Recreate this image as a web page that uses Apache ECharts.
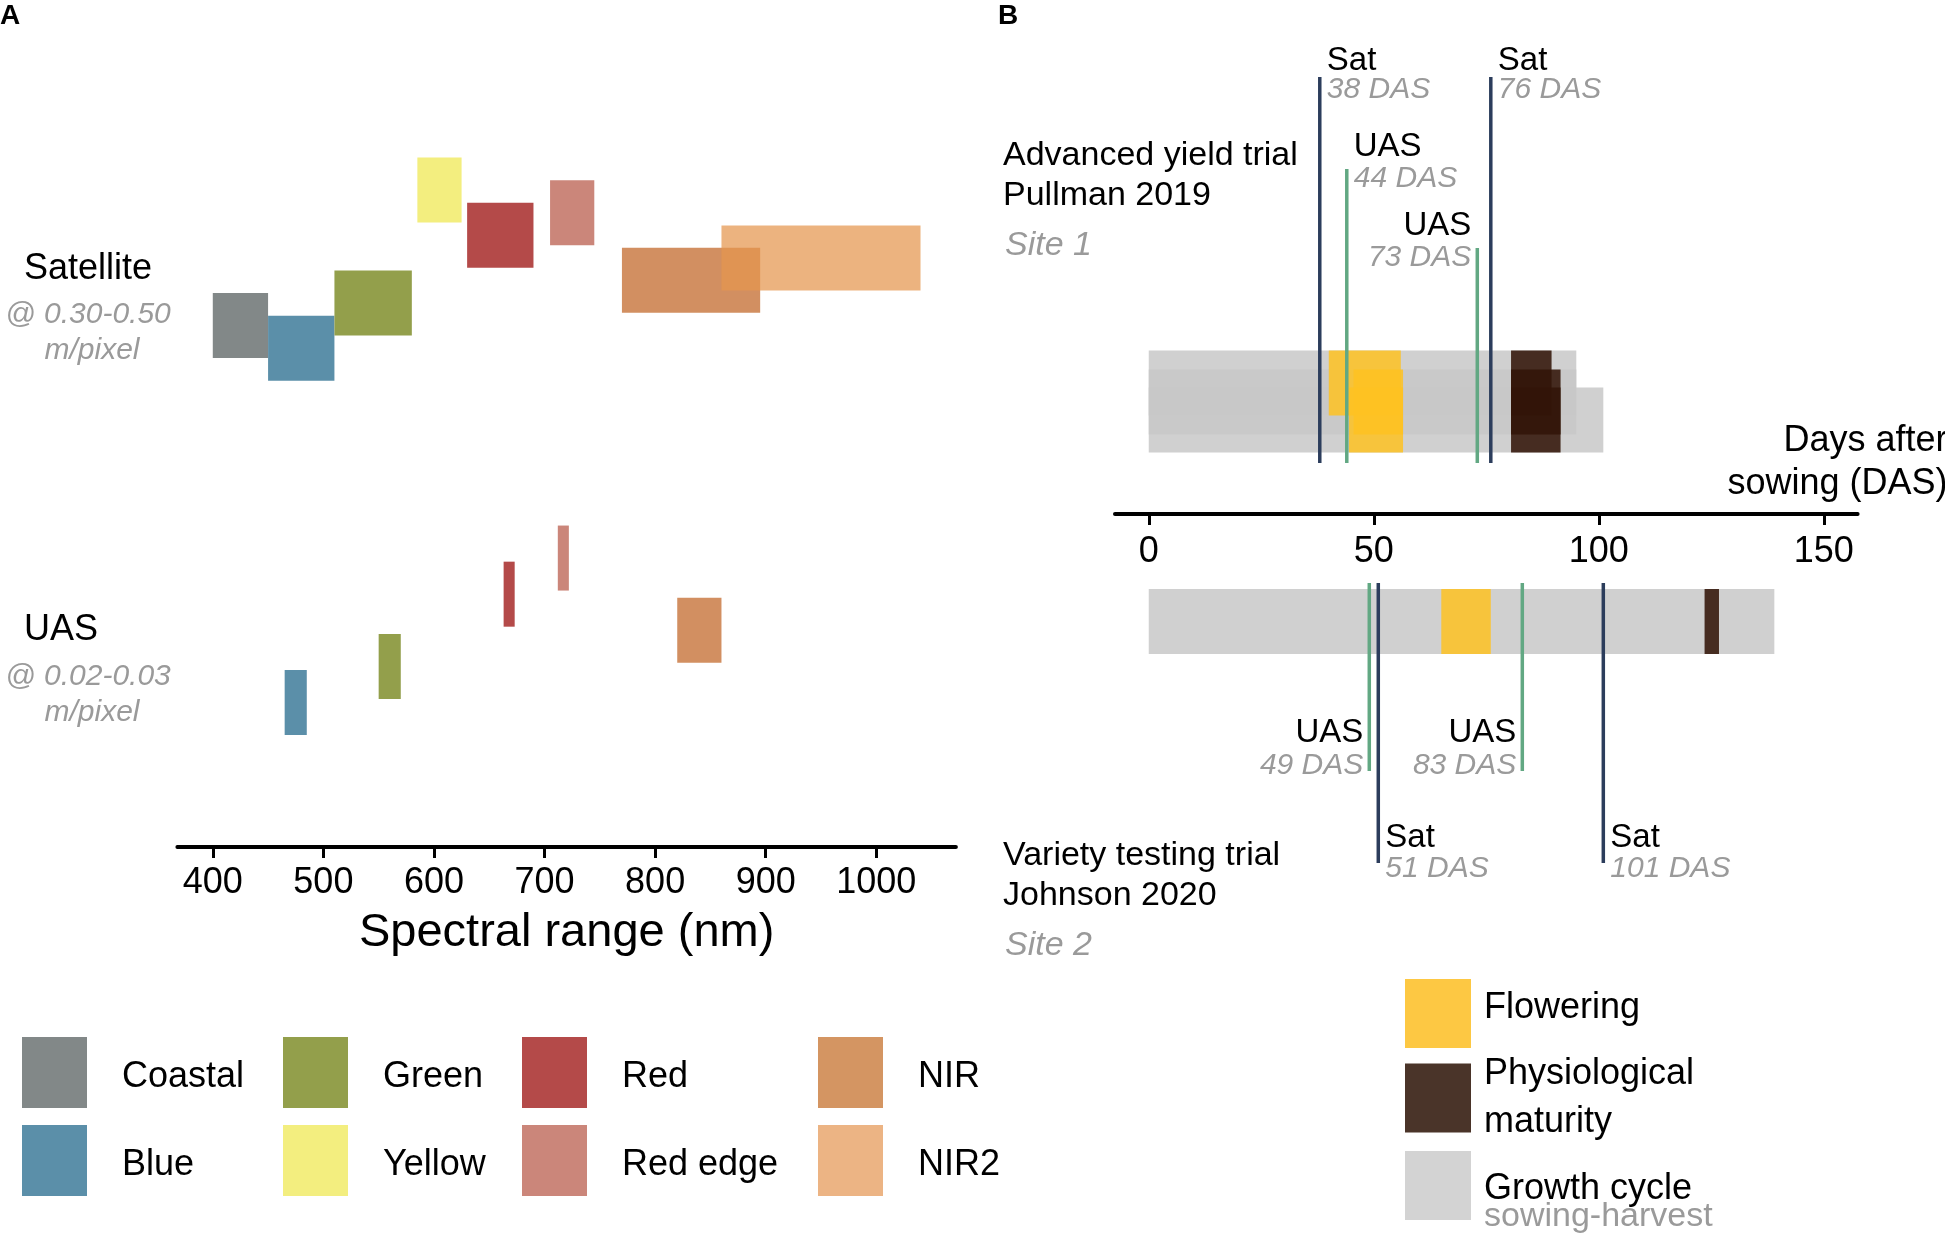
<!DOCTYPE html>
<html><head><meta charset="utf-8">
<script src="https://cdn.jsdelivr.net/npm/echarts@6/dist/echarts.min.js"></script>
<style>html,body{margin:0;padding:0;background:#fff}#c{width:1945px;height:1235px}</style>
</head><body><div id="c"></div>
<script>
// ---------- Panel A data ----------
const bandNames  = ['Coastal','Blue','Green','Yellow','Red','Red edge','NIR','NIR2'];
const satStart   = [400, 450, 510, 585, 630, 705, 770, 860];
const satEnd     = [450, 510, 580, 625, 690, 745, 895, 1040];
const satRow     = [1.844, 1.781, 1.906, 2.219, 2.094, 2.156, 1.969, 2.031];
const uasBands   = ['Blue','Green','Red','Red edge','NIR'];
const uasStart   = [465, 550, 663, 712, 820];
const uasEnd     = [485, 570, 673, 722, 860];
const uasRow     = [0.8, 0.9, 1.1, 1.2, 1.0];
const platformNames = ['Satellite','UAS'];
const platformRes   = ['@ 0.30-0.50','@ 0.02-0.03'];
const platformRow   = [2, 1];
const spectralTicks = [400, 500, 600, 700, 800, 900, 1000];

// ---------- Panel B data ----------
const rowY          = [1.31, 1.12, 0.94, -1.075];
const growthStart   = [0, 0, 0, 0];
const growthEnd     = [95, 95, 101, 139];
const flowerStart   = [40, 45.5, 44.5, 65];
const flowerEnd     = [56, 56.5, 56.5, 76];
const maturityStart = [80.5, 80.5, 80.5, 123.5];
const maturityEnd   = [89.5, 91.5, 91.5, 126.7];
const sensorNames   = ['Sat','UAS'];
const flightSensor  = [0, 1, 1, 0, 1, 0, 1, 0];
const flightDAS     = [38, 44, 73, 76, 49, 51, 83, 101];
const flightNear    = [0.51, 0.51, 0.51, 0.51, -0.69, -0.69, -0.69, -0.69];
const flightFar     = [4.37, 3.45, 2.66, 4.37, -2.57, -3.49, -2.57, -3.49];
const flightSide    = [1, 1, -1, 1, -1, 1, -1, 1];
const dasTicks      = [0, 50, 100, 150];
const trialNames  = ['Advanced yield trial', 'Variety testing trial'];
const trialPlaces = ['Pullman 2019', 'Johnson 2020'];
const siteNames   = ['Site 1', 'Site 2'];

// ---------- styles ----------
const FONT = 'Liberation Sans, Arial, Helvetica, sans-serif';
const bandColor = {
  'Coastal':'#828888','Blue':'#5b8fa9','Green':'#939f4b','Yellow':'#f3ee7f',
  'Red':'#b44a49','Red edge':'#cb867a','NIR':'#c06424','NIR2':'#e5954e'
};
const bandOpacity = {'NIR':0.72,'NIR2':0.72};
const bandLegendColor = Object.assign({}, bandColor, {'NIR':'#d49562','NIR2':'#ecb484'});
const GRAY_TXT = '#9a9a9a';
const SAT_COL = '#2c3d5c', UAS_COL = '#62a883';
const HA = 0.09, HB = 0.325;

function rectRender(h, opacity) {
  return function (params, api) {
    const x0 = api.value(0), x1 = api.value(1), y = api.value(2);
    const p0 = api.coord([x0, y + h]);
    const p1 = api.coord([x1, y - h]);
    return {
      type: 'rect',
      shape: { x: p0[0], y: p0[1], width: p1[0] - p0[0], height: p1[1] - p0[1] },
      style: { fill: api.visual('color'), opacity: opacity }
    };
  };
}

const series = [];
// Panel A bands
bandNames.forEach((b, i) => {
  const data = [[satStart[i], satEnd[i], satRow[i]]];
  const j = uasBands.indexOf(b);
  if (j >= 0) data.push([uasStart[j], uasEnd[j], uasRow[j]]);
  series.push({
    type: 'custom', name: b, xAxisIndex: 0, yAxisIndex: 0, clip: false,
    itemStyle: { color: bandColor[b] },
    encode: { x: [0, 1], y: 2 },
    renderItem: rectRender(HA, bandOpacity[b] || 1),
    data: data, silent: true
  });
});
// Platform labels
series.push({
  type: 'custom', name: 'platforms', xAxisIndex: 0, yAxisIndex: 0, silent: true, clip: false,
  encode: { x: 0, y: 1 },
  data: platformRow.map((r, i) => [368, r, i]),
  renderItem: function (params, api) {
    const i = api.value(2);
    const p = api.coord([api.value(0), api.value(1)]);
    return { type: 'group', children: [
      { type: 'text', style: { x: 24, y: p[1], text: platformNames[i], font: '36px ' + FONT, fill: '#000', verticalAlign: 'middle', align: 'left' } },
      { type: 'text', style: { x: 88, y: p[1] + 46, text: platformRes[i], font: 'italic 30px ' + FONT, fill: GRAY_TXT, verticalAlign: 'middle', align: 'center' } },
      { type: 'text', style: { x: 92, y: p[1] + 82, text: 'm/pixel', font: 'italic 30px ' + FONT, fill: GRAY_TXT, verticalAlign: 'middle', align: 'center' } }
    ]};
  }
});
// Panel B phases (site 2 lies below the axis line, drawn outside the grid box)
const rowsOf = (s, e) => rowY.map((y, i) => [s[i], e[i], y]);
series.push({
  type: 'custom', name: 'Growth cycle', xAxisIndex: 1, yAxisIndex: 1, silent: true, clip: false,
  itemStyle: { color: '#c8c8c8' }, encode: { x: [0, 1], y: 2 },
  renderItem: rectRender(HB, 0.85), data: rowsOf(growthStart, growthEnd)
});
series.push({
  type: 'custom', name: 'Flowering', xAxisIndex: 1, yAxisIndex: 1, silent: true, clip: false,
  itemStyle: { color: '#fec222' }, encode: { x: [0, 1], y: 2 },
  renderItem: rectRender(HB, 0.85), data: rowsOf(flowerStart, flowerEnd)
});
series.push({
  type: 'custom', name: 'Physiological maturity', xAxisIndex: 1, yAxisIndex: 1, silent: true, clip: false,
  itemStyle: { color: '#321508' }, encode: { x: [0, 1], y: 2 },
  renderItem: rectRender(HB, 0.88), data: rowsOf(maturityStart, maturityEnd)
});
// Panel B overpass lines
series.push({
  type: 'custom', name: 'overpass', xAxisIndex: 1, yAxisIndex: 1, silent: true, clip: false,
  encode: { x: 0, y: [1, 2] },
  data: flightDAS.map((d, i) => [d, flightNear[i], flightFar[i], flightSensor[i], flightSide[i]]),
  renderItem: function (params, api) {
    const das = api.value(0), near = api.value(1), far = api.value(2);
    const s = api.value(3), side = api.value(4);
    const pn = api.coord([das, near]), pf = api.coord([das, far]);
    const top = far > 0;
    const isSat = s === 0;
    let dn, dd;
    if (top) { dn = isSat ? -16 : -22; dd = isSat ? 13 : 10; }
    else { dn = isSat ? -25 : -38; dd = isSat ? 6 : -5; }
    const tx = pf[0] + (side > 0 ? 7 : -6);
    const align = side > 0 ? 'left' : 'right';
    return { type: 'group', children: [
      { type: 'line', shape: { x1: pn[0], y1: pn[1], x2: pf[0], y2: pf[1] },
        style: { stroke: isSat ? SAT_COL : UAS_COL, lineWidth: 3.5 } },
      { type: 'text', style: { x: tx, y: pf[1] + dn, text: sensorNames[s], font: '33px ' + FONT, fill: '#000', align: align, verticalAlign: 'middle' } },
      { type: 'text', style: { x: tx, y: pf[1] + dd, text: das + ' DAS', font: 'italic 30px ' + FONT, fill: GRAY_TXT, align: align, verticalAlign: 'middle' } }
    ]};
  }
});

const legendCols = [['Coastal','Blue'],['Green','Yellow'],['Red','Red edge'],['NIR','NIR2']];
const legendLefts = [22, 283, 522, 818];
const legends = legendCols.map((col, k) => ({
  left: legendLefts[k], top: 1037, orient: 'vertical', icon: 'rect', padding: 0,
  itemWidth: 65, itemHeight: 71, itemGap: 17, selectedMode: false,
  formatter: n => '{t|' + n + '}',
  textStyle: { fontSize: 36, color: '#000', fontFamily: FONT, padding: [0, 0, 0, 30],
    rich: { t: { fontSize: 36, color: '#000', fontFamily: FONT, padding: [9, 0, 0, 0] } } },
  data: col.map(n => ({ name: n, itemStyle: { color: bandLegendColor[n], opacity: 1, borderWidth: 0 } }))
}));
const legB = { left: 1405, icon: 'rect', itemWidth: 66, itemHeight: 69, selectedMode: false, orient: 'vertical', padding: 0 };
legends.push(Object.assign({}, legB, { top: 979,
  formatter: () => '{t|Flowering}',
  textStyle: { fontSize: 36, color: '#000', fontFamily: FONT, padding: [0, 0, 0, 8],
    rich: { t: { fontSize: 36, color: '#000', fontFamily: FONT, padding: [0, 0, 10, 0] } } },
  data: [{ name: 'Flowering', itemStyle: { color: '#fdc843', opacity: 1 } }] }));
legends.push(Object.assign({}, legB, { top: 1050,
  formatter: () => 'Physiological\nmaturity',
  textStyle: { fontSize: 36, color: '#000', fontFamily: FONT, padding: [0, 0, 0, 8], lineHeight: 48 },
  data: [{ name: 'Physiological maturity', itemStyle: { color: '#4a3429', opacity: 1 } }] }));
legends.push(Object.assign({}, legB, { top: 1151,
  formatter: () => '{a|Growth cycle}\n{b|sowing-harvest}',
  textStyle: { fontSize: 36, color: '#000', fontFamily: FONT, padding: [35, 0, 0, 8],
    rich: { a: { fontSize: 36, lineHeight: 28, color: '#000', fontFamily: FONT },
            b: { fontSize: 34, lineHeight: 28, color: GRAY_TXT, fontFamily: FONT } } },
  data: [{ name: 'Growth cycle', itemStyle: { color: '#d3d3d3', opacity: 1 } }] }));

const graphics = [
  { type: 'text', left: 0, top: 2, style: { text: 'A', font: 'bold 28px ' + FONT, fill: '#000' } },
  { type: 'text', left: 998, top: 2, style: { text: 'B', font: 'bold 28px ' + FONT, fill: '#000' } }
];
const trialY = [156, 856];
trialNames.forEach((t, i) => {
  graphics.push({ type: 'text', x: 1003, y: trialY[i], style: { text: t, font: '34px ' + FONT, fill: '#000', verticalAlign: 'middle' } });
  graphics.push({ type: 'text', x: 1003, y: trialY[i] + 40, style: { text: trialPlaces[i], font: '34px ' + FONT, fill: '#000', verticalAlign: 'middle' } });
  graphics.push({ type: 'text', x: 1005, y: trialY[i] + 90, style: { text: siteNames[i], font: 'italic 34px ' + FONT, fill: GRAY_TXT, verticalAlign: 'middle' } });
});

const plainNum = v => String(v);
const option = {
  animation: false,
  backgroundColor: '#fff',
  textStyle: { fontFamily: FONT },
  grid: [
    { left: 177.4, width: 778.5, top: 52.4, height: 794.6, containLabel: false, outerBoundsMode: 'none' },
    { left: 1115, width: 742.6, top: 14, height: 500, containLabel: false, outerBoundsMode: 'none' }
  ],
  xAxis: [
    {
      type: 'value', gridIndex: 0, min: 368, max: 1072, splitLine: { show: false },
      axisLine: { show: true, onZero: false, lineStyle: { color: '#000', width: 4 } },
      axisTick: { show: true, length: 11, lineStyle: { color: '#000', width: 3 }, customValues: spectralTicks },
      axisLabel: { fontSize: 36, color: '#000', margin: 18, customValues: spectralTicks, formatter: plainNum },
      name: 'Spectral range (nm)', nameLocation: 'middle', nameGap: 63,
      nameTextStyle: { fontSize: 47, color: '#000' }
    },
    {
      type: 'value', gridIndex: 1, min: -7.5, max: 157.5, splitLine: { show: false },
      axisLine: { show: true, onZero: false, lineStyle: { color: '#000', width: 4 } },
      axisTick: { show: true, length: 11, lineStyle: { color: '#000', width: 3 }, customValues: dasTicks },
      axisLabel: { fontSize: 36, color: '#000', margin: 20, customValues: dasTicks, formatter: plainNum },
      name: 'Days after\nsowing (DAS)', nameLocation: 'end', nameGap: 90,
      nameTextStyle: { fontSize: 36, color: '#000', align: 'right', verticalAlign: 'bottom', lineHeight: 43, padding: [0, 0, 8, 0] }
    }
  ],
  yAxis: [
    { type: 'value', gridIndex: 0, min: 0.4, max: 2.6, show: false },
    { type: 'value', gridIndex: 1, min: 0, max: 5, show: false }
  ],
  legend: legends,
  graphic: graphics,
  series: series
};

const chart = echarts.init(document.getElementById('c'), null, { renderer: 'canvas' });
chart.setOption(option);
</script>
</body></html>
